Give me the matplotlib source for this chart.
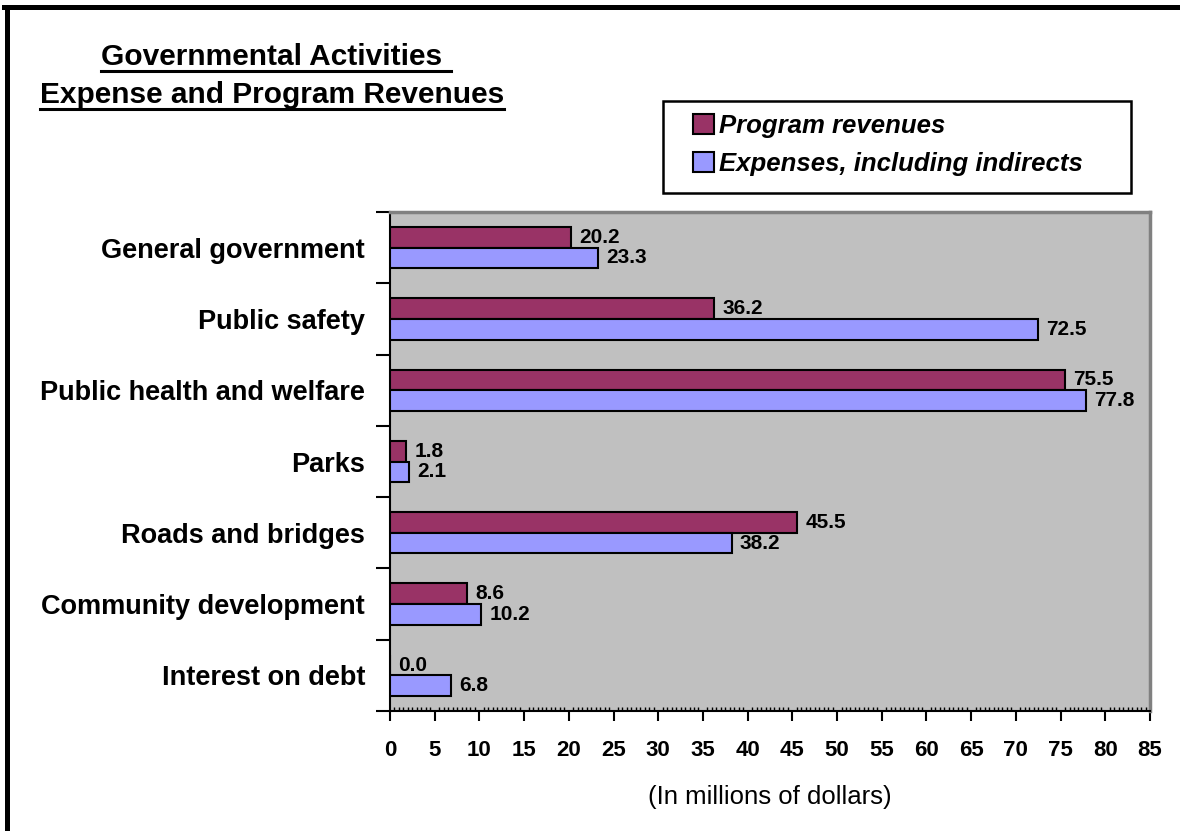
import matplotlib
matplotlib.use('Agg')
import matplotlib.pyplot as plt
from matplotlib.patches import Patch, Rectangle
from matplotlib.lines import Line2D
from matplotlib.ticker import MultipleLocator, FixedLocator, NullFormatter

categories = ["General government", "Public safety", "Public health and welfare",
              "Parks", "Roads and bridges", "Community development", "Interest on debt"]
program_revenues = [20.2, 36.2, 75.5, 1.8, 45.5, 8.6, 0.0]
expenses = [23.3, 72.5, 77.8, 2.1, 38.2, 10.2, 6.8]
series_labels = ["Program revenues", "Expenses, including indirects"]
x_ticks = list(range(0, 90, 5))
title_lines = ["Governmental Activities ", "Expense and Program Revenues"]
x_label = "(In millions of dollars)"

plt.rcParams['font.family'] = ['Liberation Sans', 'DejaVu Sans']

W, H = 1180, 831
fig = plt.figure(figsize=(W / 100, H / 100), dpi=100)
fig.patch.set_facecolor('white')

def fx(px):
    return px / W

def fy(py):
    return 1 - py / H

ax = fig.add_axes([fx(390), fy(711), fx(1150) - fx(390), fy(212) - fy(711)])
ax.set_facecolor('#C0C0C0')

red = '#993366'
blue = '#9999FF'
h = 0.29
ypos = list(range(len(categories)))
y_red = [y - h / 2 for y in ypos]
y_blue = [y + h / 2 for y in ypos]

ax.barh(y_red, program_revenues, height=h, color=red, edgecolor='black', linewidth=1.5, zorder=3)
ax.barh(y_blue, expenses, height=h, color=blue, edgecolor='black', linewidth=1.5, zorder=3)

for yv, v in zip(y_red, program_revenues):
    ax.annotate(f"{v:.1f}", (v, yv), xytext=(6, 0), textcoords='offset points',
                ha='left', va='center', fontsize=15, fontweight='bold', zorder=4)
for yv, v in zip(y_blue, expenses):
    ax.annotate(f"{v:.1f}", (v, yv), xytext=(6, 0), textcoords='offset points',
                ha='left', va='center', fontsize=15, fontweight='bold', zorder=4)

ax.set_xlim(0, 85)
ax.set_ylim(len(categories) - 0.5, -0.5)

ax.xaxis.set_major_locator(FixedLocator(x_ticks))
ax.set_xticklabels([str(t) for t in x_ticks], fontsize=16, fontweight='bold')
ax.xaxis.set_minor_locator(MultipleLocator(0.5))
ax.tick_params(axis='x', which='major', direction='out', length=7, width=1.5, pad=14, color='black')
ax.tick_params(axis='x', which='minor', direction='in', length=3, width=1, color='black')

ax.yaxis.set_major_locator(FixedLocator([y - 0.5 for y in ypos] + [len(categories) - 0.5]))
ax.yaxis.set_major_formatter(NullFormatter())
ax.yaxis.set_minor_locator(FixedLocator(ypos))
ax.set_yticklabels(categories, minor=True, fontsize=19.5, fontweight='bold')
ax.tick_params(axis='y', which='major', direction='out', length=10, width=1.5, color='black')
ax.tick_params(axis='y', which='minor', length=0, pad=18)

for s in ['left', 'bottom']:
    ax.spines[s].set_color('black')
    ax.spines[s].set_linewidth(1.5)
for s in ['top', 'right']:
    ax.spines[s].set_color('#808080')
    ax.spines[s].set_linewidth(2.5)

ax.set_xlabel(x_label, fontsize=18.5, labelpad=17)

# Legend
handles = [Patch(facecolor=red, edgecolor='black', linewidth=1.5),
           Patch(facecolor=blue, edgecolor='black', linewidth=1.5)]
fig.legend(handles, series_labels, loc='center left', bbox_to_anchor=(fx(693), fy(145)),
           frameon=False, prop={'size': 18.5, 'weight': 'bold', 'style': 'italic'},
           handlelength=0.8, handleheight=0.8, handletextpad=0.2, labelspacing=0.55,
           borderpad=0, borderaxespad=0)
fig.add_artist(Rectangle((fx(663), fy(193)), fx(1131) - fx(663), fy(101) - fy(193),
                         transform=fig.transFigure, facecolor='none', edgecolor='black',
                         linewidth=1.8))

# Title with underline
t1 = fig.text(fx(276), fy(57), title_lines[0], ha='center', va='center', fontsize=21.5, fontweight='bold')
t2 = fig.text(fx(272), fy(95), title_lines[1], ha='center', va='center', fontsize=21.5, fontweight='bold')
fig.canvas.draw()
r = fig.canvas.get_renderer()
for t, uy in [(t1, 71), (t2, 109)]:
    bb = t.get_window_extent(renderer=r)
    fig.add_artist(Line2D([bb.x0 / W, bb.x1 / W], [fy(uy), fy(uy)], transform=fig.transFigure,
                          color='black', linewidth=2.2))

# Outer frame (left and top)
fig.add_artist(Line2D([fx(6.5), fx(6.5)], [0, fy(6.5)], transform=fig.transFigure, color='black', linewidth=3.6))
fig.add_artist(Line2D([fx(4), 1], [fy(6.5), fy(6.5)], transform=fig.transFigure, color='black', linewidth=3.6))

fig.savefig('out.png', dpi=100)
